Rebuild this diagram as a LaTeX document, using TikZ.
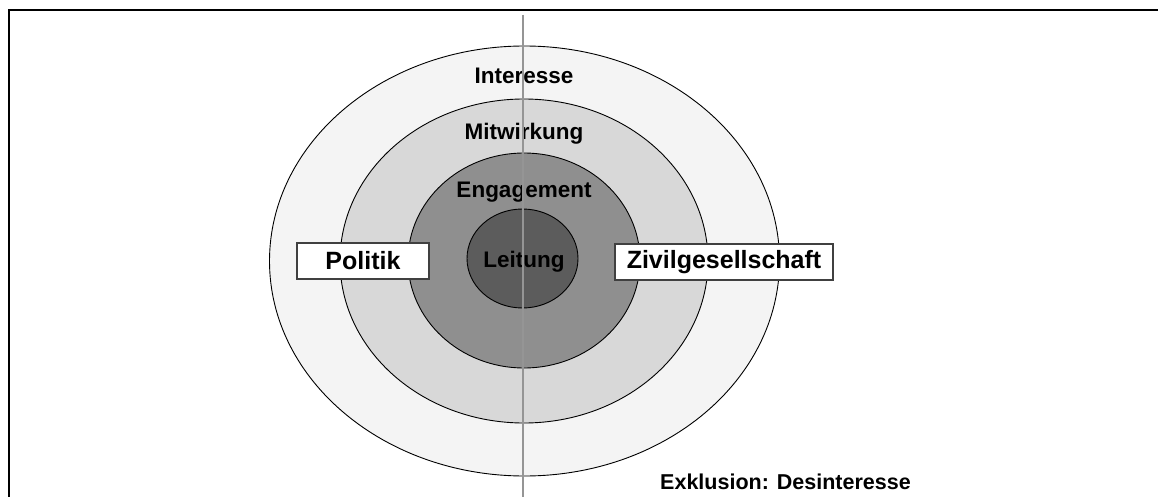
\documentclass[tikz,border=0pt]{standalone}
\usepackage{fontspec}
\setmainfont{Liberation Sans}
\usetikzlibrary{shapes.geometric}
\definecolor{ringA}{HTML}{F4F4F4}
\definecolor{ringB}{HTML}{D8D8D8}
\definecolor{ringC}{HTML}{8F8F8F}
\definecolor{ringD}{HTML}{5C5C5C}
\definecolor{axisgray}{HTML}{959595}
\definecolor{boxedge}{HTML}{404040}
\begin{document}
\begin{tikzpicture}[x=1pt,y=-1pt,
  frameline/.style={line width=2.6pt,line join=miter,black},
  ring/.style={draw=black,line width=0.9pt},
  ringlabel/.style={anchor=base,inner sep=0pt,font=\fontsize{22.5}{26}\selectfont\bfseries},
  boxlabel/.style={draw=boxedge,line width=1.4pt,fill=white,inner sep=0pt,font=\fontsize{25}{30}\selectfont\bfseries},
  notelabel/.style={anchor=base west,inner sep=0pt,font=\fontsize{21.5}{26}\selectfont\bfseries},
  axis/.style={draw=axisgray,line width=1.6pt}]
\useasboundingbox (0,0) rectangle (1158,497);
\draw[frameline] (9,497) -- (9,10) -- (1158,10);
\fill[ringA] (524.5,261) ellipse [x radius=255pt, y radius=215pt];
\draw[ring] (524.5,261) ellipse [x radius=255pt, y radius=215pt];
\fill[ringB] (524,261) ellipse [x radius=184pt, y radius=162pt];
\draw[ring] (524,261) ellipse [x radius=184pt, y radius=162pt];
\fill[ringC] (524,260.5) ellipse [x radius=116pt, y radius=107.5pt];
\draw[ring] (524,260.5) ellipse [x radius=116pt, y radius=107.5pt];
\fill[ringD] (522.5,258.5) ellipse [x radius=55.5pt, y radius=49.5pt];
\draw[ring] (522.5,258.5) ellipse [x radius=55.5pt, y radius=49.5pt];
\node[ringlabel] (interesse) at (524,84) {Interesse};
\node[ringlabel] (mitwirkung) at (524,139.5) {Mitwirkung};
\node[ringlabel] (engagement) at (524,197.5) {Engagement};
\node[ringlabel] (leitung) at (524,267) {Leitung};
\node[notelabel] (exklusion) at (660,489) {Exklusion: Desinteresse};
\coordinate (axistop) at (523,15);
\coordinate (axisbottom) at (523,497);
\draw[axis] (axistop) -- (axisbottom);
\node[boxlabel,minimum width=132pt,minimum height=36pt] (politik) at (363,261) {Politik};
\node[boxlabel,minimum width=218pt,minimum height=36pt] (zivil) at (724,262) {Zivilgesellschaft};
\end{tikzpicture}
\end{document}
